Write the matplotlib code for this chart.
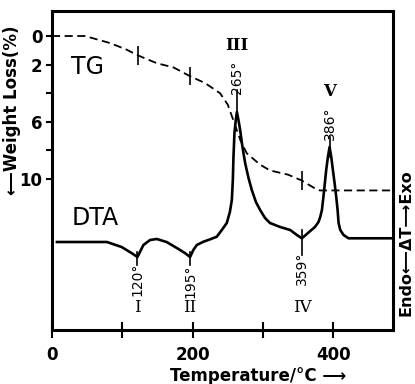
import numpy as np
import matplotlib
matplotlib.use("Agg")
import matplotlib.pyplot as plt

# TG curve (weight loss, %)
tg_T = [0, 47, 83, 106, 122, 149, 173, 196, 218, 239, 250, 258, 268, 277, 296, 310, 336, 355, 372, 381, 485]
tg_loss = [0, 0, 0.5, 0.95, 1.35, 1.9, 2.2, 2.8, 3.3, 4.0, 4.8, 5.9, 7.3, 8.2, 9.0, 9.4, 9.7, 10.1, 10.6, 10.8, 10.8]
tg_marks = [122, 196, 355]

# DTA curve (arbitrary units, exo up)
dta_T = [7, 78, 99, 113, 121.5, 130, 139.5, 149, 163, 177.5, 189, 196.4, 201, 206, 215.4, 225, 234.4,
         241.5, 248.6, 253, 255.8, 257.2, 258.1, 259.5, 261.4, 263, 265.2, 267.6, 270.9, 274.7,
         279.5, 284.2, 290, 296, 303, 310, 324.5, 338.8, 348.3, 355.4,
         364, 374, 379, 381.5, 383.9, 386, 388.1, 390, 392.4, 394.8, 397.2, 399.5, 401.9, 404.3,
         406.2, 407.6, 410, 414.7, 421.8, 485]
dta_val = [0, 0, -0.5, -1.1, -1.5, -0.3, 0.2, 0.3, 0.0, -0.6, -1.1, -1.5, -0.8, -0.3, 0.03, 0.27, 0.53,
           1.2, 1.9, 3.0, 4.2, 6.2, 8.5, 10.9, 12.2, 13.0, 12.2, 11.2, 9.5, 7.9,
           6.4, 5.2, 4.0, 3.2, 2.4, 1.9, 1.5, 1.2, 0.7, 0.37,
           0.9, 1.5, 2.0, 2.5, 3.2, 4.5, 5.9, 7.2, 8.5, 9.5, 8.5, 7.2, 5.9, 4.5,
           3.2, 1.9, 1.2, 0.7, 0.37, 0.37]

# peaks: position on the curve, printed temperature, roman numeral
peak_T = [121.5, 196.4, 263, 355.4, 394.8]
peak_label = ["120", "195", "265", "359", "386"]
peak_roman = ["I", "II", "III", "IV", "V"]

# layout of the peak annotations (DTA units)
mark_top = [-1.0, -1.0, 15.2, 1.2, 10.5]
mark_bot = [-2.3, -2.3, 12.5, -1.3, 8.5]
temp_y = [-3.7, -3.9, 16.5, -2.6, 11.9]
roman_y = [-6.5, -6.5, 19.6, -6.5, 15.0]

W, H = 415, 384
fig = plt.figure(figsize=(W / 100, H / 100), dpi=100)
ax = fig.add_axes([52 / W, 1 - 330 / H, (393 - 52) / W, (330 - 11) / H])
axd = ax.twinx()

ax.plot(tg_T, tg_loss, color="black", lw=1.3, ls=(0, (4.5, 2.5)))
mk_y = np.interp(tg_marks, tg_T, tg_loss)
ax.vlines(tg_marks, mk_y - 0.65, mk_y + 0.65, color="black", lw=1.2)

ax.set_xlim(0, 485)
ax.set_ylim(20.56, -1.75)
ax.set_xticks([0, 100, 200, 300, 400])
ax.set_xticklabels(["0", "", "200", "", "400"])
ax.set_yticks([0, 2, 4, 6, 8, 10])
ax.set_yticklabels(["0", "2", "", "6", "", "10"])
ax.tick_params(axis="x", direction="inout", length=11, width=1.5, pad=6, labelsize=12)
ax.tick_params(axis="y", direction="out", length=4, width=1.5, pad=3, labelsize=12)
for lab in ax.get_xticklabels() + ax.get_yticklabels():
    lab.set_fontweight("bold")
for s in ax.spines.values():
    s.set_linewidth(2.2)

axd.plot(dta_T, dta_val, color="black", lw=1.9, solid_joinstyle="round")
axd.set_ylim(-8.8, 23.1)
axd.tick_params(right=False, labelright=False)
for s in axd.spines.values():
    s.set_visible(False)

narrow = ["Liberation Sans Narrow", "DejaVu Sans"]
for i, T in enumerate(peak_T):
    axd.plot([T, T], [mark_bot[i], mark_top[i]], color="black", lw=1.2)
    axd.text(T, temp_y[i], peak_label[i] + "°", rotation=90, ha="center", va="center",
             fontsize=10, family=narrow)
    axd.text(T, roman_y[i], peak_roman[i], ha="center", va="center", fontsize=12,
             family="DejaVu Serif", fontweight="bold" if peak_roman[i] in ("III", "V") else "normal")

fig.text(87 / W, 1 - 67 / H, "TG", fontsize=17, ha="center", va="center")
fig.text(95 / W, 1 - 218 / H, "DTA", fontsize=17, ha="center", va="center")
fig.text(12 / W, 1 - 110 / H, "\u27f5Weight Loss(%)", rotation=90, ha="center", va="center",
         fontsize=12, fontweight="bold")
fig.text(406 / W, 1 - 243 / H, "Endo\u27f5\u0394T\u27f6Exo", rotation=90, ha="center", va="center",
         fontsize=11.5, fontweight="bold")
fig.text(258 / W, 1 - 376 / H, "Temperature/°C \u27f6", ha="center", va="center",
         fontsize=12, fontweight="bold")

fig.savefig("out.png", dpi=100)
